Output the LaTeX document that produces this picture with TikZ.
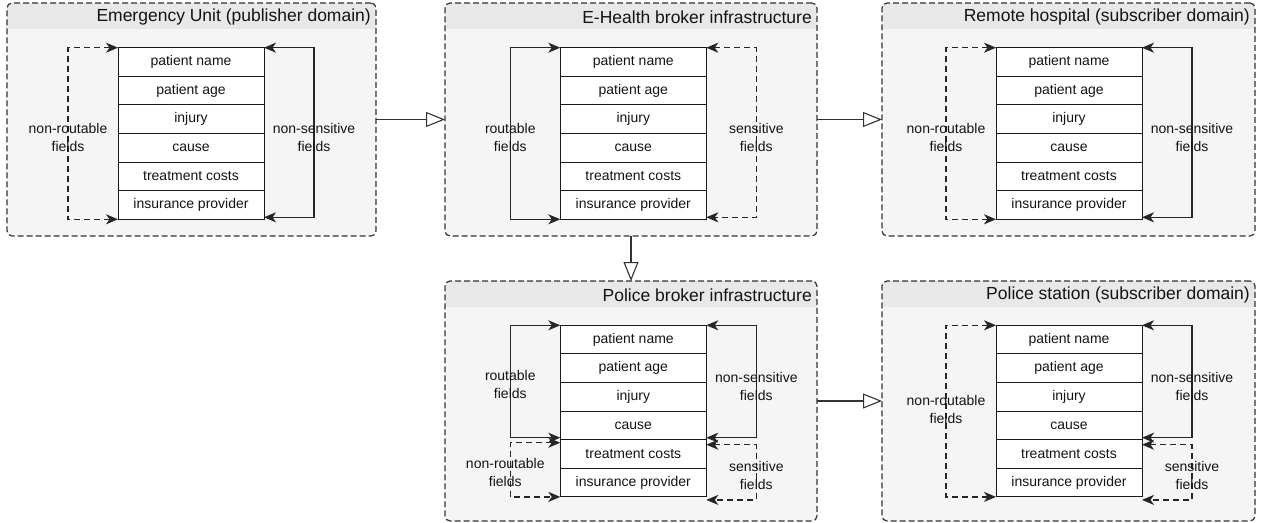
\documentclass[tikz,border=0pt]{standalone}
\usepackage{fontspec}
\setmainfont{Liberation Sans}
\usepackage{xcolor}
\usepackage{tikz}
\usetikzlibrary{arrows.meta}
\usetikzlibrary{positioning}

\definecolor{panelfill}{gray}{0.96}
\definecolor{headfill}{gray}{0.91}
\definecolor{edgegray}{gray}{0.2}

\begin{document}
\begin{tikzpicture}[
  x=1pt, y=-1pt,
  every node/.style={font=\fontsize{14}{18}\selectfont, text=black!92},
  panel/.style={draw=edgegray, dash pattern=on 6pt off 3pt, rounded corners=5pt,
    fill=panelfill, line width=1.2pt, inner sep=0pt, outer sep=0pt,
    path picture={\fill[headfill, sharp corners] (path picture bounding box.north west)
      rectangle ([yshift=-26pt]path picture bounding box.north east);}},
  field/.style={draw=black!90, fill=white, line width=1pt, minimum width=146pt,
    minimum height=28.6pt, inner sep=0pt, outer sep=0pt},
  title/.style={font=\fontsize{17.5}{20}\selectfont, inner sep=0pt, anchor=east},
  note/.style={align=center, inner sep=0pt},
  solidlink/.style={<->, line width=1.3pt, draw=black!85},
  dashlink/.style={solidlink, dash pattern=on 6pt off 4pt},
  flow/.style={-{Triangle[open, fill=white, length=19pt, width=15pt]}, line width=1.1pt, draw=black!80},
]
\tikzset{>={Stealth[length=12pt, width=10pt, inset=3.5pt]}}

  \useasboundingbox (0,0) rectangle (1263,522);

  % Panels
  \node[panel, minimum width=369pt, minimum height=233pt] (eu) at (191.5,119.5) {};
  \node[panel, minimum width=372pt, minimum height=233pt] (eh) at (631,119.5) {};
  \node[panel, minimum width=373pt, minimum height=233pt] (rh) at (1068.5,119.5) {};
  \node[panel, minimum width=372pt, minimum height=240pt] (pb) at (631,401) {};
  \node[panel, minimum width=373pt, minimum height=240pt] (ps) at (1068.5,401) {};

  % Titles
  \node[title] (eu-title) at ([shift={(-5pt,-14pt)}]eu.north east) {Emergency Unit (publisher domain)};
  \node[title] (eh-title) at ([shift={(-5pt,-14pt)}]eh.north east) {E-Health broker infrastructure};
  \node[title] (rh-title) at ([shift={(-5pt,-14pt)}]rh.north east) {Remote hospital (subscriber domain)};
  \node[title] (pb-title) at ([shift={(-5pt,-14pt)}]pb.north east) {Police broker infrastructure};
  \node[title] (ps-title) at ([shift={(-5pt,-14pt)}]ps.north east) {Police station (subscriber domain)};

  % Fields
  \foreach \p/\x/\y in {eu/191/62, eh/633.3/62, rh/1069/62, pb/633.3/339.6, ps/1069/339.6}
    \foreach \f [count=\i] in {patient name, patient age, injury, cause, treatment costs, insurance provider}
      \node[field] (\p-\i) at (\x, {\y+28.6*(\i-1)}) {\f};

  % Brackets
  \draw[dashlink] (eu-1.north west) -- ++(-50,0) |- (eu-6.south west);
  \draw[solidlink] (eu-1.north east) -- ++(50,0) |- ([yshift=2pt]eu-6.south east);
  \draw[solidlink] (eh-1.north west) -- ++(-50,0) |- (eh-6.south west);
  \draw[dashlink] (eh-1.north east) -- ++(50,0) |- ([yshift=2pt]eh-6.south east);
  \draw[dashlink] (rh-1.north west) -- ++(-50,0) |- (rh-6.south west);
  \draw[solidlink] (rh-1.north east) -- ++(50,0) |- ([yshift=2pt]rh-6.south east);
  \draw[solidlink] (pb-1.north west) -- ++(-50,0) |- ([yshift=2pt]pb-4.south west);
  \draw[dashlink] ([yshift=-3pt]pb-5.north west) -- ++(-50,0) |- (pb-6.south west);
  \draw[solidlink] (pb-1.north east) -- ++(50,0) |- ([yshift=2pt]pb-4.south east);
  \draw[dashlink] ([yshift=-5pt]pb-5.north east) -- ++(50,0) |- ([yshift=-3pt]pb-6.south east);
  \draw[dashlink] (ps-1.north west) -- ++(-50,0) |- (ps-6.south west);
  \draw[solidlink] (ps-1.north east) -- ++(50,0) |- ([yshift=2pt]ps-4.south east);
  \draw[dashlink] ([yshift=-5pt]ps-5.north east) -- ++(50,0) |- ([yshift=-3pt]ps-6.south east);

  % Labels
  \node[note] (eu-nr) at ([shift={(-50pt,-4pt)}]eu-3.south west) {non-routable\\fields};
  \node[note] (eu-ns) at ([shift={(50pt,-4pt)}]eu-3.south east) {non-sensitive\\fields};
  \node[note] (eh-r) at ([shift={(-50pt,-4pt)}]eh-3.south west) {routable\\fields};
  \node[note] (eh-s) at ([shift={(50pt,-4pt)}]eh-3.south east) {sensitive\\fields};
  \node[note] (rh-nr) at ([shift={(-50pt,-4pt)}]rh-3.south west) {non-routable\\fields};
  \node[note] (rh-ns) at ([shift={(50pt,-4pt)}]rh-3.south east) {non-sensitive\\fields};
  \node[note] (pb-r) at ([shift={(-50pt,-2pt)}]pb-2.south west) {routable\\fields};
  \node[note] (pb-ns) at ([shift={(50pt,-4pt)}]pb-2.south east) {non-sensitive\\fields};
  \node[note] (pb-nr) at ([shift={(-55pt,-4pt)}]pb-5.south west) {non-routable\\fields};
  \node[note] (pb-s) at ([shift={(50pt,-7pt)}]pb-5.south east) {sensitive\\fields};
  \node[note] (ps-nr) at ([shift={(-50pt,2pt)}]ps-3.south west) {non-routable\\fields};
  \node[note] (ps-ns) at ([shift={(50pt,-4pt)}]ps-2.south east) {non-sensitive\\fields};
  \node[note] (ps-s) at ([shift={(50pt,-7pt)}]ps-5.south east) {sensitive\\fields};

  % Flows
  \draw[flow] (eu) -- (eh);
  \draw[flow] (eh) -- (rh);
  \draw[flow] (eh) -- (pb);
  \draw[flow] (pb) -- (ps);
\end{tikzpicture}
\end{document}
